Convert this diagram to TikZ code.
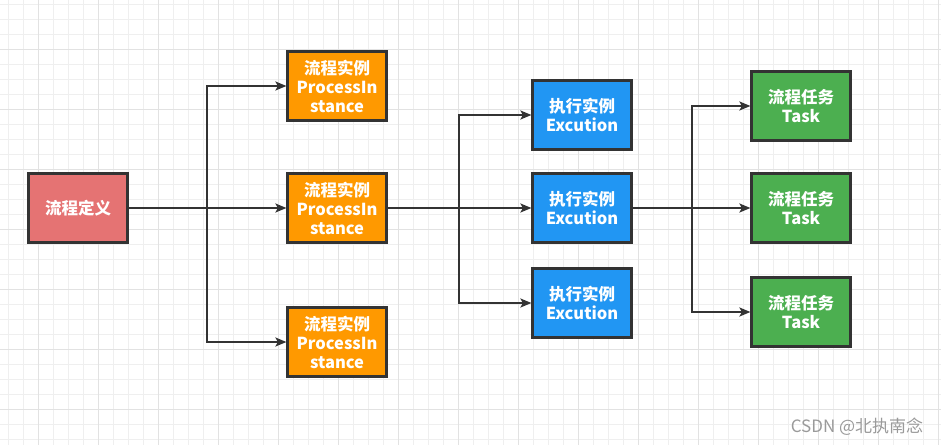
\documentclass[tikz,border=0pt]{standalone}
\usepackage{fontspec}
\setmainfont{Noto Sans CJK SC}
\usetikzlibrary{arrows.meta}
\definecolor{gridminor}{HTML}{EFEFEF}
\definecolor{gridmajor}{HTML}{E2E2E2}
\definecolor{cred}{HTML}{E57373}
\definecolor{corange}{HTML}{FF9900}
\definecolor{cblue}{HTML}{2196F3}
\definecolor{cgreen}{HTML}{4CAF50}
\definecolor{cline}{HTML}{333333}
\definecolor{cmark}{HTML}{9A9A9A}
\tikzset{
  box/.style={draw=cline, line width=2.2pt, minimum width=99pt, minimum height=69pt,
    inner sep=0pt, align=center, text=white, font=\fontsize{16.5}{19}\selectfont\bfseries},
  redbox/.style={box, fill=cred},
  orangebox/.style={box, fill=corange},
  bluebox/.style={box, fill=cblue},
  greenbox/.style={box, fill=cgreen},
  arr/.style={draw=cline, line width=1.8pt, -{Stealth[length=11pt,width=9pt,inset=2.5pt]}},
}
\begin{document}
\begin{tikzpicture}[x=1pt,y=-1pt]
\useasboundingbox (0,0) rectangle (941,445);
\fill[white] (0,0) rectangle (941,445);
% grid
\foreach \gx in {8.3,23.3,...,941} \draw[gridminor, line width=1pt] (\gx,0) -- (\gx,445);
\foreach \gy in {4,19,...,445} \draw[gridminor, line width=1pt] (0,\gy) -- (941,\gy);
\foreach \gx in {38.3,98.3,...,941} \draw[gridmajor, line width=1pt] (\gx,0) -- (\gx,445);
\foreach \gy in {49,109,...,445} \draw[gridmajor, line width=1pt] (0,\gy) -- (941,\gy);

% nodes
\node[redbox] (def) at (78,208) {流程定义};
\node[orangebox] (p1) at (337,86) {流程实例\\ProcessIn\\stance};
\node[orangebox] (p2) at (337,208) {流程实例\\ProcessIn\\stance};
\node[orangebox] (p3) at (337,342) {流程实例\\ProcessIn\\stance};
\node[bluebox] (e1) at (582,115) {执行实例\\Excution};
\node[bluebox] (e2) at (582,208) {执行实例\\Excution};
\node[bluebox] (e3) at (582,303) {执行实例\\Excution};
\node[greenbox] (t1) at (801,106) {流程任务\\Task};
\node[greenbox] (t2) at (801,208) {流程任务\\Task};
\node[greenbox] (t3) at (801,312) {流程任务\\Task};

% junctions
\coordinate (j1) at (207,208);
\coordinate (j2) at (459,208);
\coordinate (j3) at (692,208);

% connectors
\draw[arr] (def.east) -- (p2.west);
\draw[arr] (j1) |- (p1.west);
\draw[arr] (j1) |- (p3.west);
\draw[arr] (p2.east) -- (e2.west);
\draw[arr] (j2) |- (e1.west);
\draw[arr] (j2) |- (e3.west);
\draw[arr] (e2.east) -- (t2.west);
\draw[arr] (j3) |- (t1.west);
\draw[arr] (j3) |- (t3.west);

% watermark
\node[text=cmark, font=\fontsize{17}{19}\selectfont, inner sep=0pt] (wm) at (857,427) {CSDN @北执南念};
\end{tikzpicture}
\end{document}
